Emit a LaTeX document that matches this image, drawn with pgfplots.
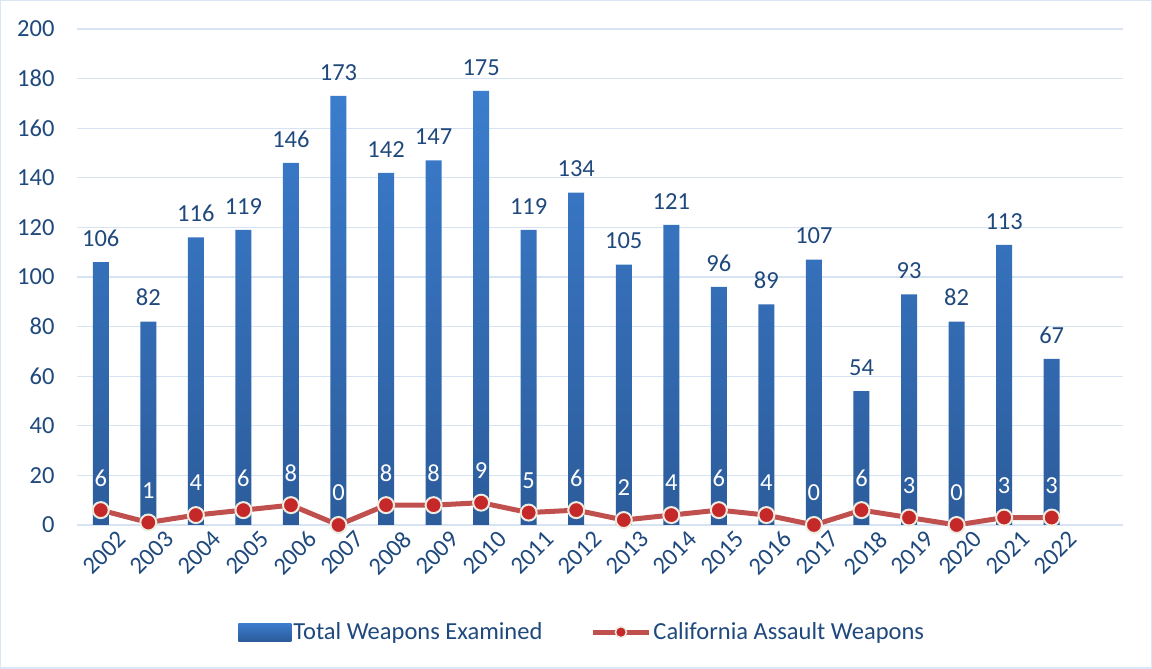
\documentclass[border=0pt]{standalone}
\usepackage{fontspec}
\setmainfont{Carlito}
\usepackage{pgfplots}
\pgfplotsset{compat=1.18}
\definecolor{txt}{RGB}{31,73,125}
\definecolor{gridc}{RGB}{214,227,243}
\definecolor{bartop}{RGB}{59,125,206}
\definecolor{barbot}{RGB}{44,92,155}
\definecolor{lnred}{RGB}{192,80,77}
\definecolor{mkred}{RGB}{196,40,40}
\definecolor{mkedge}{RGB}{238,236,225}
\definecolor{framec}{RGB}{218,230,244}
\newcommand{\lbl}{\fontsize{24.5}{29}\selectfont}

\begin{document}
\begin{tikzpicture}
\begin{axis}[
  scale only axis, width=1046pt, height=496pt,
  xmin=2001.5, xmax=2023.5, ymin=0, ymax=200,
  ytick={0,20,...,200},
  xtick={2002,...,2022},
  xticklabels={2002,2003,2004,2005,2006,2007,2008,2009,2010,2011,2012,2013,2014,2015,2016,2017,2018,2019,2020,2021,2022},
  ymajorgrids, grid style={gridc, line width=1.2pt},
  axis line style={draw=none},
  major tick length=0pt,
  tick label style={font=\lbl, text=txt},
  /pgf/number format/assume math mode=true,
  yticklabel style={xshift=-19pt},
  xticklabel style={rotate=45, anchor=north east, inner sep=0pt, xshift=8pt, yshift=-14pt},
  legend columns=2,
  legend style={at={(0.483,-0.216)}, anchor=center, draw=none, fill=none,
    font=\lbl, text=txt, inner sep=0pt,
    /tikz/every even column/.append style={column sep=46pt}},
  clip=false,
]
\addplot[ybar, bar width=16pt, draw=none, top color=bartop, bottom color=barbot,
  nodes near coords, nodes near coords style={font=\lbl, text=txt, anchor=south, yshift=12pt},
  legend image code/.code={\shade[top color=bartop, bottom color=barbot] (0pt,-9pt) rectangle (53pt,9pt);}]
coordinates {
(2002,106) (2003,82) (2004,116) (2005,119) (2006,146) (2007,173) (2008,142)
(2009,147) (2010,175) (2011,119) (2012,134) (2013,105) (2014,121) (2015,96)
(2016,89) (2017,107) (2018,54) (2019,93) (2020,82) (2021,113) (2022,67)
};
\addlegendentry{Total Weapons Examined}
\addplot[lnred, line width=5pt, mark=*, mark size=8pt,
  mark options={fill=mkred, draw=mkedge, line width=2pt},
  nodes near coords, nodes near coords style={font=\lbl, text=white, anchor=center, yshift=32pt},
  legend image code/.code={\draw[lnred, line width=5pt] (0pt,0pt) -- (56pt,0pt);
    \filldraw[fill=mkred, draw=mkedge, line width=1.5pt] (28pt,0pt) circle (5.5pt);}]
coordinates {
(2002,6) (2003,1) (2004,4) (2005,6) (2006,8) (2007,0) (2008,8)
(2009,8) (2010,9) (2011,5) (2012,6) (2013,2) (2014,4) (2015,6)
(2016,4) (2017,0) (2018,6) (2019,3) (2020,0) (2021,3) (2022,3)
};
\addlegendentry{California Assault Weapons}
\end{axis}
\pgfresetboundingbox
\path[use as bounding box] (-77pt,-144pt) rectangle (1075pt,525pt);
\draw[framec, line width=1.5pt] (-76.25pt,-143.25pt) rectangle (1074.25pt,524.25pt);
\end{tikzpicture}
\end{document}
